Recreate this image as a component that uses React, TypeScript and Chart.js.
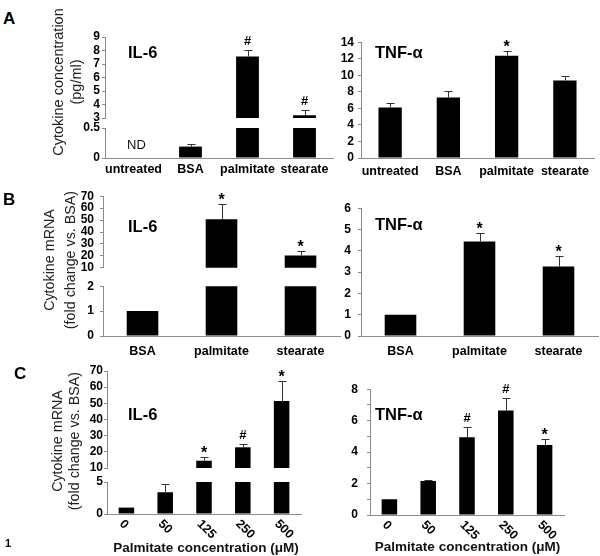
import React, { useEffect, useRef } from "react";
import { Chart, registerables } from "chart.js";
Chart.register(...registerables);

const FONT = '"Liberation Sans", Arial, Helvetica, sans-serif';

// ---- Panel A : secreted cytokines (pg/ml) ----
const catA = ["untreated", "BSA", "palmitate", "stearate"];
const il6A: (number | null)[] = [null, 0.19, 7.55, 3.2];
const il6AErr = [0, 0.04, 0.52, 0.42];
const il6AMarks = ["ND", "", "#", "#"];
const il6ALowTicks = [0, 0.5];
const il6AUpTicks = [3, 4, 5, 6, 7, 8, 9];

const tnfA = [6.1, 7.3, 12.35, 9.38];
const tnfAErr = [0.55, 0.8, 0.55, 0.55];
const tnfAMarks = ["", "", "*", ""];
const tnfATicks = [0, 2, 4, 6, 8, 10, 12, 14];

// ---- Panel B : mRNA fold change vs BSA ----
const catB = ["BSA", "palmitate", "stearate"];
const il6B = [1, 50.7, 20.3];
const il6BErr = [0, 12.8, 3.4];
const il6BMarks = ["", "*", "*"];
const il6BLowTicks = [0, 1, 2];
const il6BUpTicks = [10, 20, 30, 40, 50, 60, 70];

const tnfB = [1, 4.44, 3.26];
const tnfBErr = [0, 0.38, 0.5];
const tnfBMarks = ["", "*", "*"];
const tnfBTicks = [0, 1, 2, 3, 4, 5, 6];

// ---- Panel C : palmitate dose response ----
const catC = ["0", "50", "125", "250", "500"];
const il6C = [1, 3.4, 14.5, 22.8, 51.4];
const il6CErr = [0, 1.35, 2.4, 2.0, 12.5];
const il6CMarks = ["", "", "*", "#", "*"];
const il6CLowTicks = [0, 5];
const il6CUpTicks = [10, 20, 30, 40, 50, 60, 70];

const tnfC = [1, 2.17, 4.95, 6.65, 4.45];
const tnfCErr = [0, 0.03, 0.65, 0.78, 0.38];
const tnfCMarks = ["", "", "#", "#", "*"];
const tnfCTicks = [0, 1, 2, 3, 4, 5, 6, 7, 8];

type Seg = {
  key: string;
  labels: string[];
  values: (number | null)[];
  errs: number[];
  marks: string[];
  area: [number, number, number, number];
  yMin: number;
  yMax: number;
  yTicks: number[];
  yPad: number;
  yLabel?: (v: number) => string;
  xMode: "labels" | "rotated" | "none";
  xPad?: number;
  pr?: number;
};

const SEGS: Seg[] = [
  { key: "aIl6Low", labels: catA, values: il6A, errs: il6AErr, marks: il6AMarks, area: [105, 128, 333, 158], yMin: 0, yMax: 0.5, yTicks: il6ALowTicks, yPad: 2, xMode: "labels", xPad: 4 },
  { key: "aIl6Up", labels: catA, values: il6A, errs: il6AErr, marks: il6AMarks, area: [105, 37, 333, 118], yMin: 3, yMax: 9, yTicks: il6AUpTicks, yPad: 2, xMode: "none" },
  { key: "aTnf", labels: catA, values: tnfA, errs: tnfAErr, marks: tnfAMarks, area: [361, 41, 594, 158], yMin: 0, yMax: 14, yTicks: tnfATicks, yPad: 4, xMode: "labels", xPad: 6 },
  { key: "bIl6Low", labels: catB, values: il6B, errs: il6BErr, marks: il6BMarks, area: [103, 283, 340, 336], yMin: 0, yMax: 2, yTicks: il6BLowTicks, yPad: 6, xMode: "labels", xPad: 8 },
  { key: "bIl6Up", labels: catB, values: il6B, errs: il6BErr, marks: il6BMarks, area: [103, 193, 340, 271], yMin: 10, yMax: 70, yTicks: il6BUpTicks, yPad: 6, xMode: "none" },
  { key: "bTnf", labels: catB, values: tnfB, errs: tnfBErr, marks: tnfBMarks, area: [361, 204, 598, 336], yMin: 0, yMax: 6, yTicks: tnfBTicks, yPad: 7, xMode: "labels", xPad: 8, pr: 2 },
  { key: "cIl6Low", labels: catC, values: il6C, errs: il6CErr, marks: il6CMarks, area: [107, 482, 301, 514], yMin: 0, yMax: 5, yTicks: il6CLowTicks, yPad: 1, xMode: "rotated" },
  { key: "cIl6Up", labels: catC, values: il6C, errs: il6CErr, marks: il6CMarks, area: [107, 371, 301, 468], yMin: 10, yMax: 70, yTicks: il6CUpTicks, yPad: 1, xMode: "none" },
  { key: "cTnf", labels: catC, values: tnfC, errs: tnfCErr, marks: tnfCMarks, area: [370, 383, 564, 515], yMin: 0, yMax: 8, yTicks: tnfCTicks, yPad: 9, xMode: "rotated", yLabel: (v) => (v % 2 === 0 ? String(v) : "") },
];

const YW = 45, PT = 10, PR = 6, PB = 10;

function geom(s: Seg) {
  const [l, t, r, b] = s.area;
  const pr = s.pr ?? PR;
  const xH = s.xMode === "none" ? 0 : s.xMode === "rotated" ? 34 : 26;
  const bottomPad = s.xMode === "none" ? PB : 0;
  return { left: l - YW, top: t - PT, width: r - l + YW + pr, height: PT + (b - t) + xH + bottomPad, xH, bottomPad, pr };
}

function makeChart(canvas: HTMLCanvasElement, s: Seg) {
  const g = geom(s);
  const gray = "#8c8c8c";
  const plugin = {
    id: "annot_" + s.key,
    afterDatasetsDraw(chart: any) {
      const ctx = chart.ctx as CanvasRenderingContext2D;
      const xs = chart.scales.x;
      const ys = chart.scales.y;
      ctx.save();
      s.values.forEach((v, i) => {
        const cx = xs.getPixelForValue(i);
        const mark = s.marks[i];
        if (v === null) {
          // "not detected" note sits on the baseline segment only
          if (mark && s.yMin === 0) {
            ctx.font = `13px ${FONT}`;
            ctx.fillStyle = "#111";
            ctx.textAlign = "center";
            ctx.textBaseline = "middle";
            ctx.fillText(mark, cx + 3, chart.chartArea.bottom - 13);
          }
          return;
        }
        if (v < ys.min || v > ys.max) return;
        const e = s.errs[i] || 0;
        const yTop = ys.getPixelForValue(v + e);
        const yBar = ys.getPixelForValue(v);
        if (e > 0) {
          const px = Math.round(cx) + 0.5;
          const py = Math.round(yTop) + 0.5;
          ctx.strokeStyle = "#333";
          ctx.lineWidth = 1;
          ctx.beginPath();
          ctx.moveTo(px, yBar);
          ctx.lineTo(px, py);
          ctx.moveTo(px - 4, py);
          ctx.lineTo(px + 4, py);
          ctx.stroke();
        }
        if (mark) {
          ctx.fillStyle = "#000";
          ctx.textAlign = "center";
          ctx.textBaseline = "alphabetic";
          if (mark === "*") {
            ctx.font = `bold 16px ${FONT}`;
            ctx.fillText("*", cx, yTop + 1);
          } else {
            ctx.font = `bold 13px ${FONT}`;
            ctx.fillText(mark, cx, yTop - 5);
          }
        }
      });
      if (s.xMode === "rotated") {
        ctx.font = `bold 12.5px ${FONT}`;
        ctx.fillStyle = "#000";
        ctx.textAlign = "left";
        ctx.textBaseline = "middle";
        s.labels.forEach((lab, i) => {
          const cx = xs.getPixelForValue(i);
          ctx.save();
          ctx.translate(cx - 5, chart.chartArea.bottom + 8);
          ctx.rotate(Math.PI / 4);
          ctx.fillText(lab, 0, 0);
          ctx.restore();
        });
      }
      ctx.restore();
    },
  };

  const cfg: any = {
    type: "bar",
    data: {
      labels: s.labels,
      datasets: [
        { data: s.values, backgroundColor: "#000", borderWidth: 0, barPercentage: 0.4, categoryPercentage: 1, clip: 0 },
      ],
    },
    options: {
      animation: false,
      responsive: false,
      devicePixelRatio: 1,
      events: [],
      layout: { padding: { top: PT, right: g.pr, bottom: g.bottomPad, left: 0 } },
      plugins: { legend: { display: false }, tooltip: { enabled: false }, title: { display: false } },
      scales: {
        x: {
          display: s.xMode !== "none",
          offset: true,
          grid: { display: false, drawTicks: false },
          border: { display: true, color: gray, width: 1 },
          ticks: {
            display: s.xMode === "labels",
            autoSkip: false,
            maxRotation: 0,
            minRotation: 0,
            padding: s.xPad ?? 5,
            color: "#000",
            font: { family: FONT, size: 12.5, weight: "bold" },
          },
          afterFit: (sc: any) => { sc.height = g.xH; },
        },
        y: {
          min: s.yMin,
          max: s.yMax,
          afterBuildTicks: (sc: any) => { sc.ticks = s.yTicks.map((v) => ({ value: v })); },
          grid: { drawOnChartArea: false, drawTicks: true, tickLength: 3, color: gray, tickColor: gray },
          border: { display: true, color: gray, width: 1 },
          ticks: {
            autoSkip: false,
            padding: s.yPad,
            color: "#000",
            font: { family: FONT, size: 12, weight: "bold" },
            callback: (v: any) => (s.yLabel ? s.yLabel(Number(v)) : String(v)),
          },
          afterFit: (sc: any) => { sc.width = YW; },
        },
      },
    },
    plugins: [plugin],
  };
  return new Chart(canvas, cfg);
}

const abs = (left: number, cy: number, font: string, extra: any = {}) => ({
  position: "absolute" as const,
  left,
  top: cy,
  transform: "translateY(-50%)",
  font,
  lineHeight: 1,
  whiteSpace: "nowrap" as const,
  color: "#000",
  ...extra,
});

function YTitle({ cx, cy, lh, size, lines }: { cx: number; cy: number; lh: number; size: number; lines: string[] }) {
  return (
    <div
      style={{
        position: "absolute",
        left: cx,
        top: cy,
        transform: "translate(-50%, -50%) rotate(-90deg)",
        textAlign: "center",
        whiteSpace: "nowrap",
        font: `${size}px ${FONT}`,
        lineHeight: `${lh}px`,
        color: "#222",
      }}
    >
      {lines[0]}
      <br />
      {lines[1]}
    </div>
  );
}

function XTitle({ cx, cy, text }: { cx: number; cy: number; text: string }) {
  return (
    <div
      style={{
        position: "absolute",
        left: cx,
        top: cy,
        transform: "translate(-50%, -50%)",
        whiteSpace: "nowrap",
        font: `bold 13.5px ${FONT}`,
        lineHeight: 1,
        color: "#111",
      }}
    >
      {text}
    </div>
  );
}

export default function App() {
  const refs = useRef<(HTMLCanvasElement | null)[]>([]);
  useEffect(() => {
    const charts = SEGS.map((s, i) => makeChart(refs.current[i] as HTMLCanvasElement, s));
    return () => charts.forEach((c) => c.destroy());
  }, []);

  const bold17 = `bold 17px ${FONT}`;
  const gene = `bold 16.5px ${FONT}`;

  return (
    <div style={{ position: "absolute", left: 0, top: 0, width: 600, height: 556, background: "#fff", overflow: "hidden" }}>
      {SEGS.map((s, i) => {
        const g = geom(s);
        return (
          <canvas
            key={s.key}
            ref={(el) => { refs.current[i] = el; }}
            width={g.width}
            height={g.height}
            style={{ position: "absolute", left: g.left, top: g.top, width: g.width, height: g.height }}
          />
        );
      })}

      <div style={abs(3, 18, bold17)}>A</div>
      <div style={abs(3, 199, bold17)}>B</div>
      <div style={abs(14, 372.5, bold17)}>C</div>

      <div style={abs(128, 52, gene)}>IL-6</div>
      <div style={abs(375, 52, gene)}>TNF-α</div>
      <div style={abs(128, 225.5, gene)}>IL-6</div>
      <div style={abs(375, 224, gene)}>TNF-α</div>
      <div style={abs(128, 414, gene)}>IL-6</div>
      <div style={abs(375, 414, gene)}>TNF-α</div>

      <YTitle cx={67} cy={82} lh={18} size={14.5} lines={["Cytokine concentration", "(pg/ml)"]} />
      <YTitle cx={60} cy={260} lh={21} size={14.3} lines={["Cytokine mRNA", "(fold change vs. BSA)"]} />
      <YTitle cx={66} cy={441} lh={17} size={14.3} lines={["Cytokine mRNA", "(fold change vs. BSA)"]} />

      <XTitle cx={206} cy={548} text="Palmitate concentration (μM)" />
      <XTitle cx={467.5} cy={547} text="Palmitate concentration (μM)" />

      <div style={abs(5, 543, `bold 11px ${FONT}`)}>1</div>
    </div>
  );
}
